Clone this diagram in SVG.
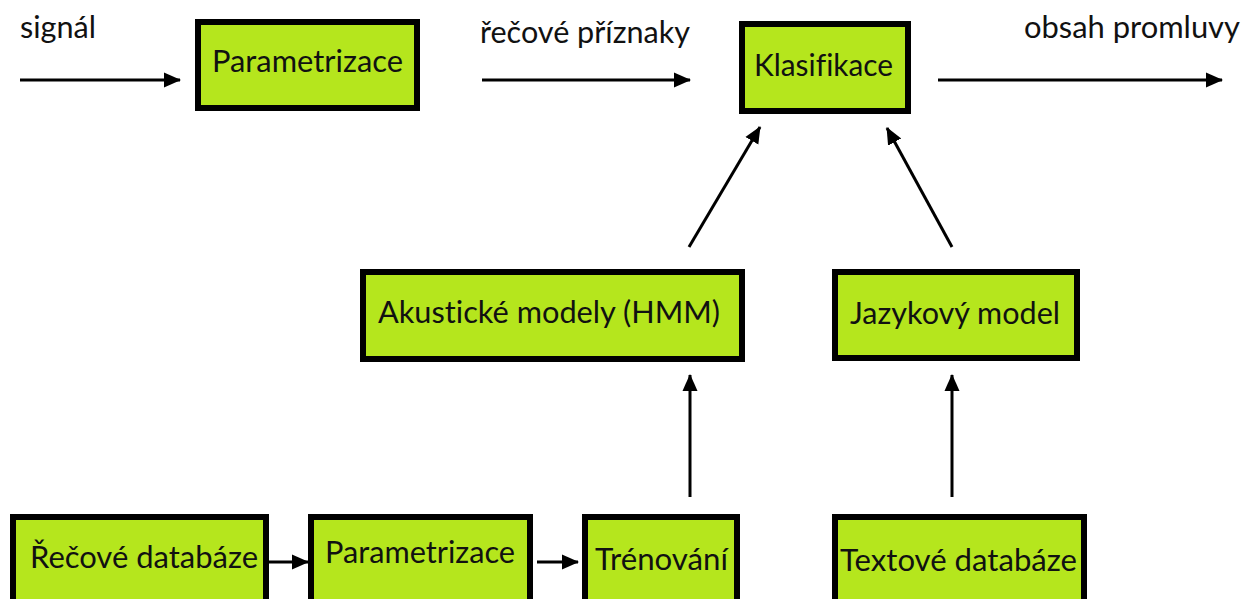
<svg xmlns="http://www.w3.org/2000/svg" width="1244" height="599" viewBox="0 0 1244 599">
<style>
.box{fill:#b5e61d;stroke:#000;stroke-width:6}
.t{font-family:Lato,"Open Sans",sans-serif;font-size:30px;fill:#111;font-variant-ligatures:none}
.c{stroke:#000;stroke-width:3;fill:none}
</style>
<defs>
<marker id="ah" markerUnits="userSpaceOnUse" markerWidth="17" markerHeight="17" viewBox="0 0 17 17" refX="16" refY="8.5" orient="auto">
<path d="M0,1 L17,8.5 L0,16 Z" fill="#000"/>
</marker>
</defs>
<rect width="1244" height="599" fill="#fff"/>
<g id="labels">
<text class="t" x="20" y="38" textLength="76" lengthAdjust="spacingAndGlyphs">signál</text>
<text class="t" x="480" y="43" textLength="210" lengthAdjust="spacingAndGlyphs">řečové příznaky</text>
<text class="t" x="1024" y="38" textLength="216" lengthAdjust="spacingAndGlyphs">obsah promluvy</text>
</g>
<g id="connectors">
<line class="c" x1="20" y1="80" x2="180" y2="80" marker-end="url(#ah)"/>
<line class="c" x1="482" y1="80" x2="690" y2="80" marker-end="url(#ah)"/>
<line class="c" x1="938" y1="80" x2="1222" y2="80" marker-end="url(#ah)"/>
<line class="c" x1="689" y1="247" x2="760" y2="127" marker-end="url(#ah)"/>
<line class="c" x1="952" y1="247" x2="887" y2="128" marker-end="url(#ah)"/>
<line class="c" x1="690" y1="497" x2="690" y2="375" marker-end="url(#ah)"/>
<line class="c" x1="952" y1="497" x2="952" y2="375" marker-end="url(#ah)"/>
<line class="c" x1="269" y1="562" x2="308" y2="562" marker-end="url(#ah)"/>
<line class="c" x1="537" y1="562" x2="578" y2="562" marker-end="url(#ah)"/>
</g>
<g id="param-top">
<rect class="box" x="198" y="22" width="219" height="86"/>
<text class="t" x="212" y="72" textLength="191" lengthAdjust="spacingAndGlyphs">Parametrizace</text>
</g>
<g id="klasifikace">
<rect class="box" x="742" y="24" width="166" height="87"/>
<text class="t" x="754" y="76" textLength="139" lengthAdjust="spacingAndGlyphs">Klasifikace</text>
</g>
<g id="akusticke">
<rect class="box" x="363" y="272" width="379" height="87"/>
<text class="t" x="378" y="323" textLength="342" lengthAdjust="spacingAndGlyphs">Akustické modely (HMM)</text>
</g>
<g id="jazykovy">
<rect class="box" x="835" y="272" width="242" height="86"/>
<text class="t" x="850" y="324" textLength="210" lengthAdjust="spacingAndGlyphs">Jazykový model</text>
</g>
<g id="recove-db">
<rect class="box" x="13" y="517" width="253" height="100"/>
<text class="t" x="30" y="568" textLength="228" lengthAdjust="spacingAndGlyphs">Řečové databáze</text>
</g>
<g id="param-bottom">
<rect class="box" x="311" y="517" width="219" height="100"/>
<text class="t" x="325" y="563" textLength="190" lengthAdjust="spacingAndGlyphs">Parametrizace</text>
</g>
<g id="trenovani">
<rect class="box" x="585" y="517" width="152" height="100"/>
<text class="t" x="595" y="570" textLength="133" lengthAdjust="spacingAndGlyphs">Trénování</text>
</g>
<g id="textove-db">
<rect class="box" x="835" y="517" width="249" height="100"/>
<text class="t" x="840" y="571" textLength="237" lengthAdjust="spacingAndGlyphs">Textové databáze</text>
</g>
</svg>
